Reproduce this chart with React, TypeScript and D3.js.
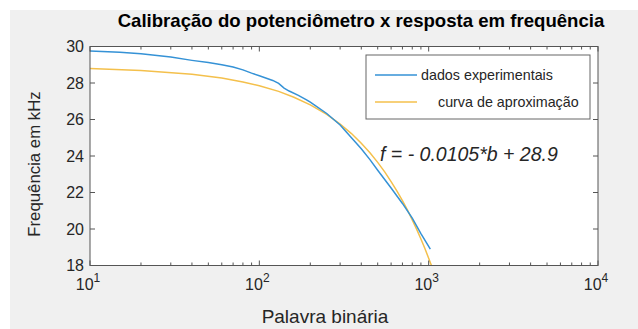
import React from "react";
import * as d3 from "d3";

const W = 638;
const H = 329;

const titleText = "Calibração do potenciômetro x resposta em frequência";
const xLabelText = "Palavra binária";
const yLabelText = "Frequência em kHz";
const legendLabels = ["dados experimentais", "curva de aproximação"];
const annotationText = "f = - 0.0105*b + 28.9";

const xMajorTicks = [10, 100, 1000, 10000];
const xTickExps = ["1", "2", "3", "4"];
const yTicks = [18, 20, 22, 24, 26, 28, 30];

const expB = [10, 15, 20, 30, 40, 50, 60, 70, 80, 90, 100, 120, 130, 140, 150, 170, 190, 200, 210, 250, 300, 350, 400, 450, 500, 600, 700, 800, 900, 1023];
const expF = [29.75, 29.68, 29.6, 29.42, 29.24, 29.12, 29.0, 28.88, 28.72, 28.54, 28.4, 28.14, 27.98, 27.72, 27.56, 27.32, 27.08, 26.95, 26.82, 26.33, 25.7, 25.0, 24.4, 23.8, 23.22, 22.25, 21.4, 20.6, 19.75, 18.9];

const fitB = [10, 20, 40, 60, 80, 100, 130, 160, 200, 250, 300, 350, 400, 450, 500, 550, 600, 650, 700, 750, 800, 850, 900, 950, 1000, 1040];
const fitF = [28.8, 28.69, 28.48, 28.27, 28.06, 27.85, 27.54, 27.22, 26.8, 26.28, 25.75, 25.23, 24.7, 24.18, 23.65, 23.13, 22.6, 22.08, 21.55, 21.03, 20.5, 19.98, 19.45, 18.93, 18.4, 17.98];

const BLUE = "#3592d6";
const YELLOW = "#f4c04c";
const AXIS = "#555555";
const TEXT = "#262626";
const FONT = "'Liberation Sans', Arial, sans-serif";

export default function App() {
  const left = 90, right = 598, top = 46.5, bottom = 265.5;
  const x = d3.scaleLog().domain([10, 10000]).range([left, right]);
  const y = d3.scaleLinear().domain([18, 30]).range([bottom, top]);

  const line = d3.line<[number, number]>().x(d => x(d[0])).y(d => y(d[1]));
  const expPts: [number, number][] = expB.map((b, i) => [b, expF[i]]);
  const fitPts: [number, number][] = fitB.map((b, i) => [b, fitF[i]]);

  const minor: number[] = [];
  [10, 100, 1000].forEach(dec => {
    for (let k = 2; k <= 9; k++) minor.push(dec * k);
  });

  const lx = 366, ly = 55, lw = 224, lh = 64;

  return (
    <svg width={W} height={H} style={{ position: "absolute", left: 0, top: 0 }} fontFamily={FONT}>
      <rect x={0} y={0} width={W} height={H} fill="#ffffff" />
      <rect x={10} y={10} width={W - 10} height={H - 10} fill="#f0f0f0" />
      <defs>
        <clipPath id="plotclip">
          <rect x={left} y={top} width={right - left} height={bottom - top} />
        </clipPath>
      </defs>
      <rect x={left} y={top} width={right - left} height={bottom - top} fill="#ffffff" />

      <g clipPath="url(#plotclip)">
        <path d={line(fitPts) || ""} fill="none" stroke={YELLOW} strokeWidth={1.5} />
        <path d={line(expPts) || ""} fill="none" stroke={BLUE} strokeWidth={1.5} />
      </g>

      <g stroke={AXIS} strokeWidth={1}>
        {xMajorTicks.map(t => (
          <g key={"xm" + t}>
            <line x1={x(t)} x2={x(t)} y1={bottom} y2={bottom - 5} />
            <line x1={x(t)} x2={x(t)} y1={top} y2={top + 5} />
          </g>
        ))}
        {minor.map(t => (
          <g key={"xn" + t}>
            <line x1={x(t)} x2={x(t)} y1={bottom} y2={bottom - 3} />
            <line x1={x(t)} x2={x(t)} y1={top} y2={top + 3} />
          </g>
        ))}
        {yTicks.map(t => (
          <g key={"y" + t}>
            <line x1={left} x2={left + 5} y1={y(t)} y2={y(t)} />
            <line x1={right} x2={right - 5} y1={y(t)} y2={y(t)} />
          </g>
        ))}
      </g>
      <rect x={left} y={top} width={right - left} height={bottom - top} fill="none" stroke={AXIS} strokeWidth={1} />

      {yTicks.map(t => (
        <text key={"yl" + t} x={left - 6} y={y(t)} dy="0.36em" textAnchor="end" fontSize={16} fill={TEXT}>
          {t}
        </text>
      ))}
      {xMajorTicks.map((t, i) => (
        <text key={"xl" + t} x={x(t) - 2} y={290} textAnchor="middle" fontSize={16} fill={TEXT}>
          10
          <tspan dy={-8} fontSize={12}>{xTickExps[i]}</tspan>
        </text>
      ))}

      <text x={361} y={27} textAnchor="middle" fontSize={18.6} fontWeight="bold" fill="#000">
        {titleText}
      </text>
      <text x={325} y={323} textAnchor="middle" fontSize={19} fill={TEXT}>
        {xLabelText}
      </text>
      <text transform={`translate(40,${(top + bottom) / 2 + 8}) rotate(-90)`} textAnchor="middle" fontSize={16.8} fill={TEXT}>
        {yLabelText}
      </text>

      <text x={380} y={161} fontSize={19.5} fontStyle="italic" fill={TEXT}>
        {annotationText}
      </text>

      <rect x={lx} y={ly} width={lw} height={lh} fill="#ffffff" stroke="#666666" strokeWidth={1} />
      <line x1={lx + 9} x2={lx + 51} y1={ly + 20} y2={ly + 20} stroke={BLUE} strokeWidth={1.5} />
      <line x1={lx + 9} x2={lx + 51} y1={ly + 47} y2={ly + 47} stroke={YELLOW} strokeWidth={1.5} />
      <text x={lx + 55} y={ly + 20} dy="0.35em" fontSize={14.3} fill={TEXT}>
        {legendLabels[0]}
      </text>
      <text x={lx + 72} y={ly + 47} dy="0.35em" fontSize={14.3} fill={TEXT}>
        {legendLabels[1]}
      </text>
    </svg>
  );
}
